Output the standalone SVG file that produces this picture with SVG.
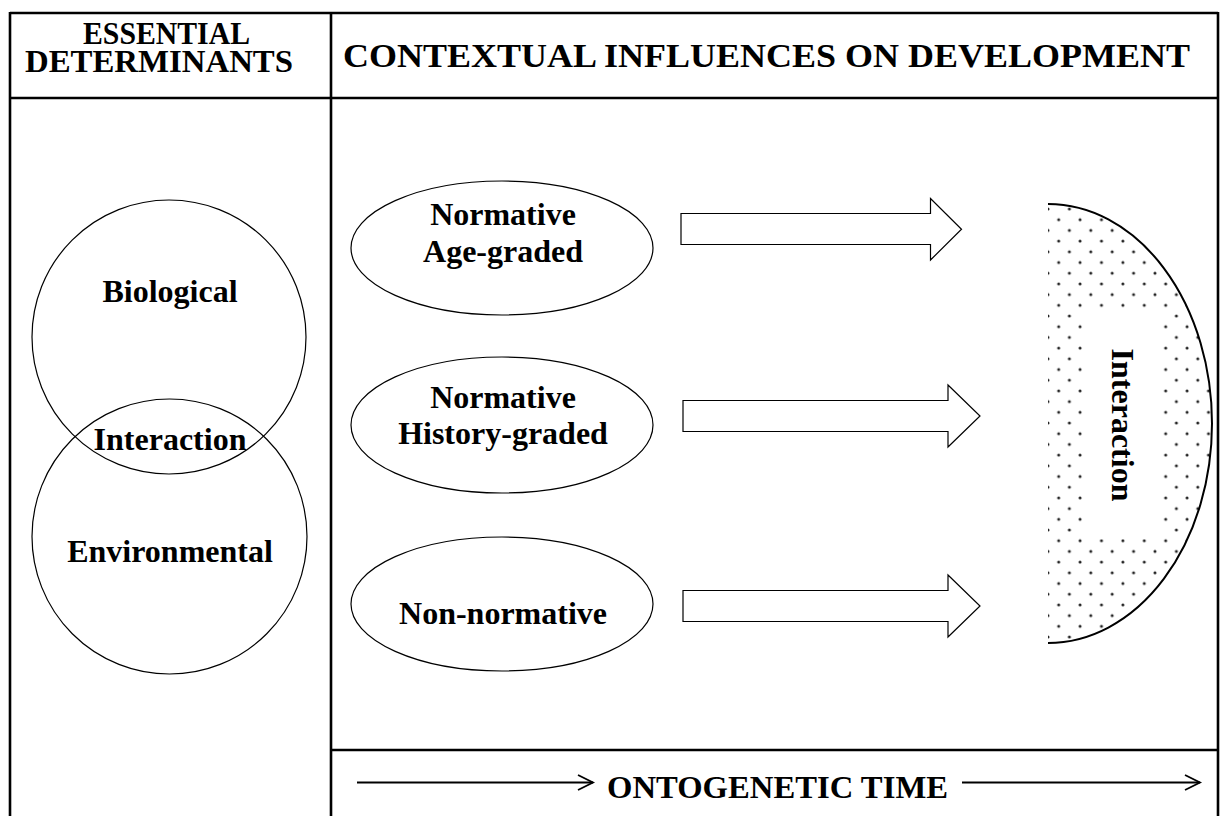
<svg xmlns="http://www.w3.org/2000/svg" width="1227" height="816" viewBox="0 0 1227 816">
  <style>
    .t { font-family: "Liberation Serif", "Times New Roman", serif; font-weight: bold; font-size: 32px; fill: #000; }
    .grid { stroke: #000; stroke-width: 2.6; fill: none; }
    .thin { stroke: #000; stroke-width: 1.2; fill: #fff; }
    .block { stroke: #000; stroke-width: 1.2; fill: #fff; stroke-linejoin: miter; }
    .time { stroke: #000; stroke-width: 1.8; fill: none; }
  </style>
  <defs>
    <pattern id="dots" patternUnits="userSpaceOnUse" x="1048" y="209" width="21.4" height="21.4">
      <circle cx="0" cy="0" r="1.5" fill="#222"/>
      <circle cx="21.4" cy="0" r="1.5" fill="#222"/>
      <circle cx="0" cy="21.4" r="1.5" fill="#222"/>
      <circle cx="21.4" cy="21.4" r="1.5" fill="#222"/>
      <circle cx="10.7" cy="10.7" r="1.5" fill="#222"/>
    </pattern>
  </defs>
  <rect width="1227" height="816" fill="#fff"/>

  <!-- table frame -->
  <g id="table">
    <line class="grid" x1="10" y1="13" x2="1218" y2="13"/>
    <line class="grid" x1="10" y1="98" x2="1218" y2="98"/>
    <line class="grid" x1="10" y1="12" x2="10" y2="816"/>
    <line class="grid" x1="331" y1="12" x2="331" y2="816"/>
    <line class="grid" x1="1218" y1="12" x2="1218" y2="816"/>
    <line class="grid" x1="331" y1="750" x2="1218" y2="750"/>
  </g>

  <!-- headers -->
  <g id="header-determinants">
    <text class="t" x="83" y="44" textLength="167" lengthAdjust="spacingAndGlyphs">ESSENTIAL</text>
    <text class="t" x="25" y="72" textLength="268" lengthAdjust="spacingAndGlyphs">DETERMINANTS</text>
  </g>
  <g id="header-contextual">
    <text class="t" x="343" y="67" style="font-size:34px" textLength="847" lengthAdjust="spacingAndGlyphs">CONTEXTUAL INFLUENCES ON DEVELOPMENT</text>
  </g>

  <!-- essential determinants -->
  <g id="biological">
    <circle cx="169" cy="337" r="137" fill="none" stroke="#000" stroke-width="1.2"/>
    <text class="t" x="170" y="302" text-anchor="middle">Biological</text>
  </g>
  <g id="environmental">
    <circle cx="169.5" cy="536.5" r="137.5" fill="none" stroke="#000" stroke-width="1.2"/>
    <text class="t" x="170" y="562" text-anchor="middle">Environmental</text>
  </g>
  <g id="interaction-overlap">
    <text class="t" x="170" y="450" text-anchor="middle">Interaction</text>
  </g>

  <!-- contextual influences -->
  <g id="age-graded">
    <ellipse class="thin" cx="502" cy="248" rx="151" ry="67"/>
    <text class="t" x="503" y="225" text-anchor="middle">Normative</text>
    <text class="t" x="503" y="262" text-anchor="middle">Age-graded</text>
  </g>
  <g id="history-graded">
    <ellipse class="thin" cx="502" cy="425" rx="151" ry="68"/>
    <text class="t" x="503" y="408" text-anchor="middle">Normative</text>
    <text class="t" x="503" y="444" text-anchor="middle">History-graded</text>
  </g>
  <g id="non-normative">
    <ellipse class="thin" cx="502" cy="604" rx="151" ry="67"/>
    <text class="t" x="503" y="624" text-anchor="middle">Non-normative</text>
  </g>

  <!-- block arrows -->
  <g id="connectors">
    <path class="block" d="M681,213.5 H930.5 V198.5 L961.5,229.3 L930.5,260 V244.5 H681 Z"/>
    <path class="block" d="M683,400.5 H948 V385 L980,416 L948,447 V431.5 H683 Z"/>
    <path class="block" d="M683,590.5 H948 V575 L980,606 L948,637 V621.5 H683 Z"/>
  </g>

  <!-- interaction half-ellipse -->
  <g id="interaction">
    <path d="M1048,204 A164,219.5 0 0 1 1048,643 Z" fill="url(#dots)"/>
    <rect x="1084" y="308" width="79" height="231" fill="#fff"/>
    <path d="M1048,204 A164,219.5 0 0 1 1048,643" fill="none" stroke="#000" stroke-width="2"/>
    <text class="t" transform="translate(1112,425) rotate(90)" text-anchor="middle">Interaction</text>
  </g>

  <!-- ontogenetic time -->
  <g id="time-axis">
    <line class="time" x1="357" y1="782.5" x2="593" y2="782.5"/>
    <polyline class="time" points="578,775 593,782.5 578,790"/>
    <text class="t" x="607" y="798" textLength="341" lengthAdjust="spacingAndGlyphs">ONTOGENETIC TIME</text>
    <line class="time" x1="962" y1="782.5" x2="1200" y2="782.5"/>
    <polyline class="time" points="1185,775 1200,782.5 1185,790"/>
  </g>
</svg>
